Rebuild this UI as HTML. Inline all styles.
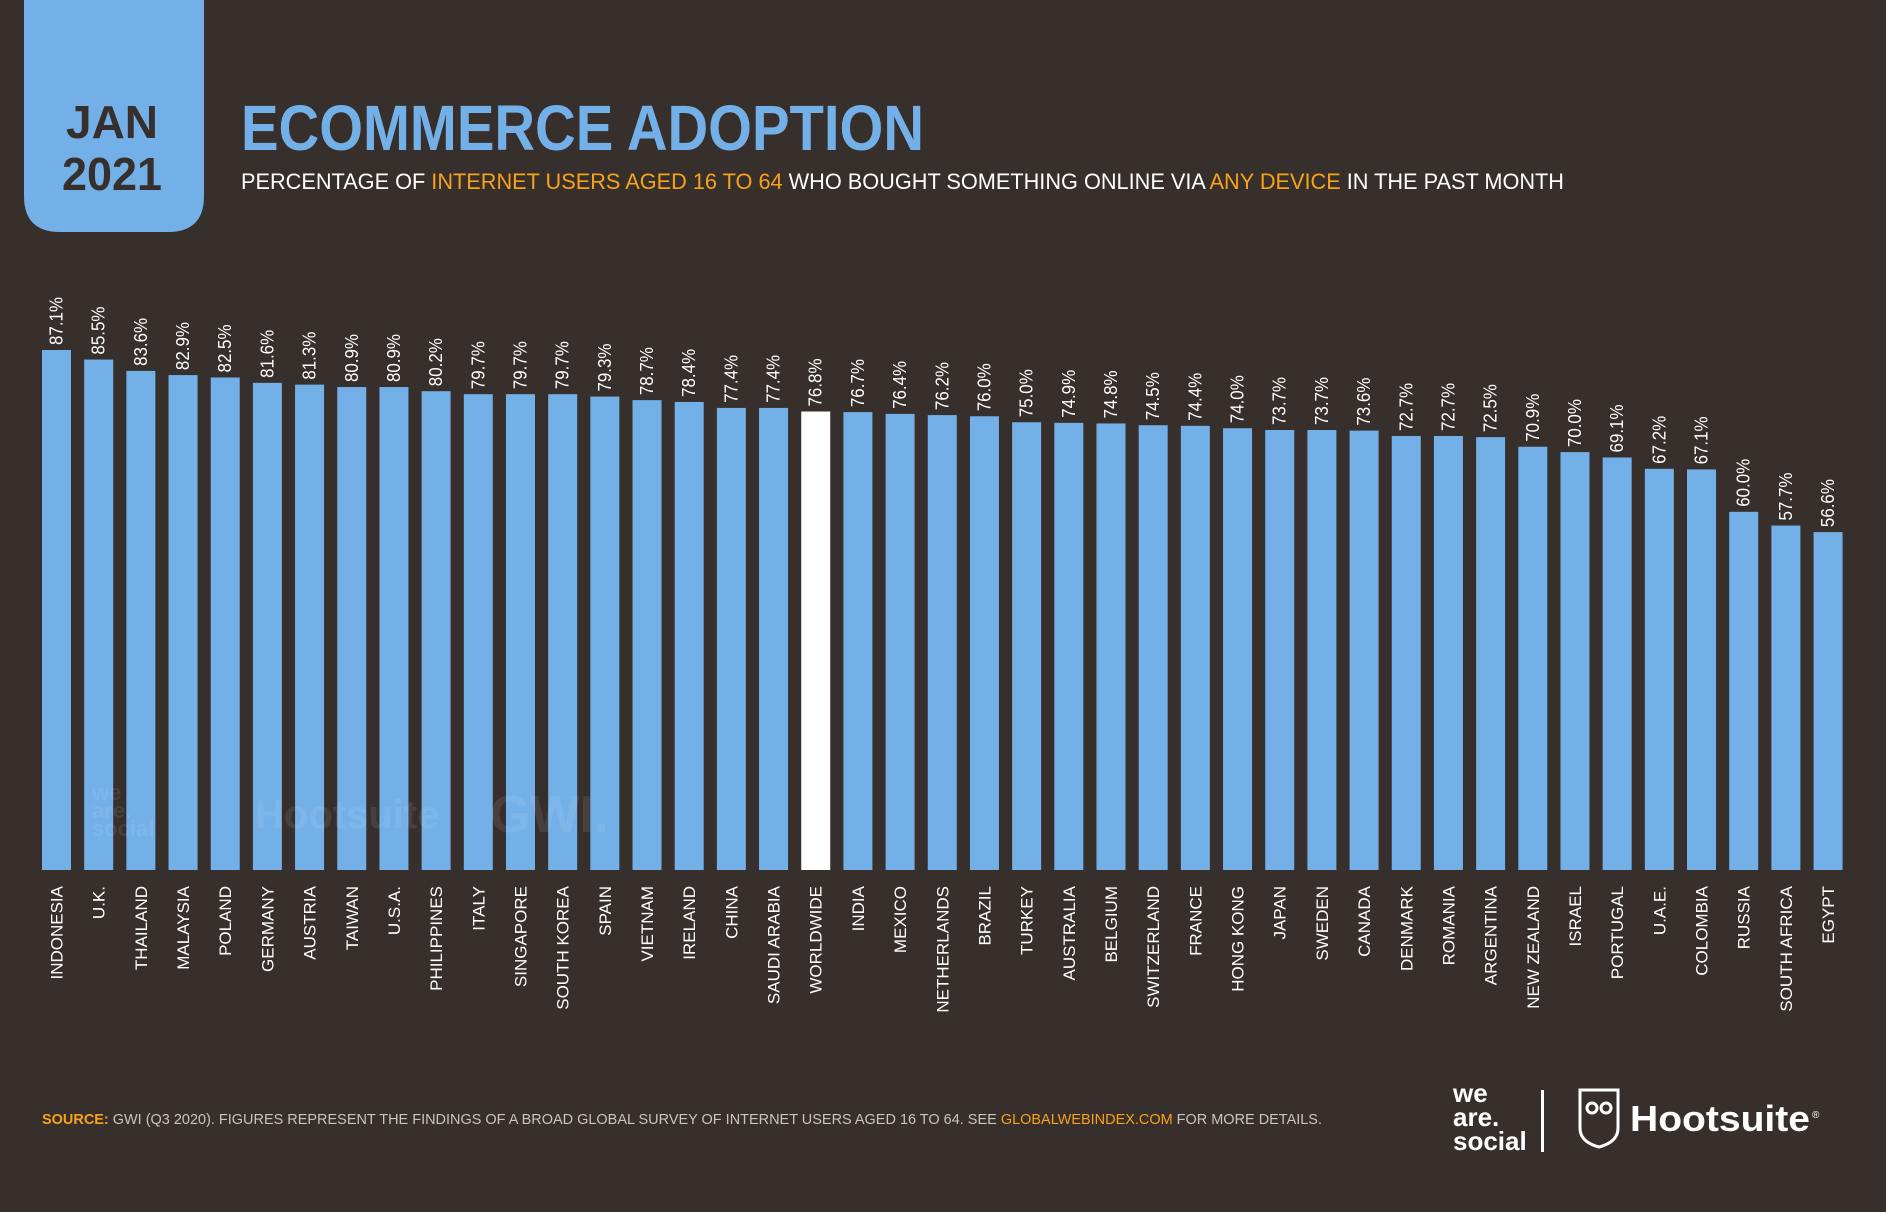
<!DOCTYPE html>
<html><head><meta charset="utf-8"><title>Ecommerce Adoption</title>
<style>
html,body{margin:0;padding:0;background:#372f2b;}
svg{display:block;}
text{font-family:"Liberation Sans",sans-serif;}
</style></head>
<body>
<svg id="chart" width="1886" height="1212" viewBox="0 0 1886 1212" xmlns="http://www.w3.org/2000/svg">
<rect x="0" y="0" width="1886" height="1212" fill="#372f2b"/>
<path d="M24 0 H204 V196 Q204 232 168 232 H60 Q24 232 24 196 Z" fill="#74b0e8"/>
<text x="112" y="138" text-anchor="middle" font-size="46" font-weight="bold" fill="#372f2b" textLength="92" lengthAdjust="spacingAndGlyphs">JAN</text>
<text x="112" y="190" text-anchor="middle" font-size="46" font-weight="bold" fill="#372f2b" textLength="100" lengthAdjust="spacingAndGlyphs">2021</text>
<text x="241" y="150" font-size="64" font-weight="bold" fill="#74b0e8" textLength="683" lengthAdjust="spacingAndGlyphs">ECOMMERCE ADOPTION</text>
<text x="241" y="189" font-size="22" fill="#ffffff" textLength="1323" lengthAdjust="spacingAndGlyphs">PERCENTAGE OF <tspan fill="#f7a21b">INTERNET USERS AGED 16 TO 64</tspan> WHO BOUGHT SOMETHING ONLINE VIA <tspan fill="#f7a21b">ANY DEVICE</tspan> IN THE PAST MONTH</text>
<g id="bars"></g>
<g opacity="0.08" font-weight="bold" fill="#ffffff">
<text x="92" y="800" font-size="22">we</text>
<text x="92" y="818" font-size="22">are.</text>
<text x="92" y="836" font-size="22">social</text>
<text x="255" y="828" font-size="40">Hootsuite</text>
<text x="490" y="832" font-size="52">GWI.</text>
</g>
<g id="values"></g>
<g id="cats"></g>
<text x="42" y="1124" font-size="15" fill="#c9c4c0" textLength="1280" lengthAdjust="spacingAndGlyphs"><tspan fill="#f7a21b" font-weight="bold">SOURCE:</tspan> GWI (Q3 2020). FIGURES REPRESENT THE FINDINGS OF A BROAD GLOBAL SURVEY OF INTERNET USERS AGED 16 TO 64. SEE <tspan fill="#f7a21b">GLOBALWEBINDEX.COM</tspan> FOR MORE DETAILS.</text>
<g fill="#ffffff" font-weight="bold">
<text x="1453" y="1102" font-size="26">we</text>
<text x="1453" y="1126" font-size="26">are.</text>
<text x="1453" y="1150" font-size="26">social</text>
<rect x="1541" y="1090" width="3" height="62" fill="#ffffff"/>
</g>
<g>
<path d="M1580 1090 H1618 V1128 Q1618 1142 1599 1147 Q1580 1142 1580 1128 Z" fill="none" stroke="#ffffff" stroke-width="3"/>
<circle cx="1592" cy="1108" r="5" fill="none" stroke="#ffffff" stroke-width="3"/>
<circle cx="1606" cy="1108" r="5" fill="none" stroke="#ffffff" stroke-width="3"/>
<text x="1630" y="1131" font-size="36" font-weight="bold" fill="#ffffff" textLength="180" lengthAdjust="spacingAndGlyphs">Hootsuite</text>
<text x="1812" y="1118" font-size="10" fill="#ffffff">®</text>
</g>
</svg>
<script>
const categories = ["INDONESIA","U.K.","THAILAND","MALAYSIA","POLAND","GERMANY","AUSTRIA","TAIWAN","U.S.A.","PHILIPPINES","ITALY","SINGAPORE","SOUTH KOREA","SPAIN","VIETNAM","IRELAND","CHINA","SAUDI ARABIA","WORLDWIDE","INDIA","MEXICO","NETHERLANDS","BRAZIL","TURKEY","AUSTRALIA","BELGIUM","SWITZERLAND","FRANCE","HONG KONG","JAPAN","SWEDEN","CANADA","DENMARK","ROMANIA","ARGENTINA","NEW ZEALAND","ISRAEL","PORTUGAL","U.A.E.","COLOMBIA","RUSSIA","SOUTH AFRICA","EGYPT"];
const values = [87.1,85.5,83.6,82.9,82.5,81.6,81.3,80.9,80.9,80.2,79.7,79.7,79.7,79.3,78.7,78.4,77.4,77.4,76.8,76.7,76.4,76.2,76.0,75.0,74.9,74.8,74.5,74.4,74.0,73.7,73.7,73.6,72.7,72.7,72.5,70.9,70.0,69.1,67.2,67.1,60.0,57.7,56.6];
const highlight = ["WORLDWIDE"];

const NS = "http://www.w3.org/2000/svg";
const baseY = 870, pxPer = 5.97, x0 = 42, pitch = 42.18, bw = 29;
function xScale(i){ return x0 + i * pitch; }
function yScale(v){ return baseY - v * pxPer; }
const gB = document.getElementById('bars'), gV = document.getElementById('values'), gC = document.getElementById('cats');
categories.forEach((c, i) => {
  const v = values[i];
  const x = xScale(i), y = yScale(v);
  const r = document.createElementNS(NS, 'rect');
  r.setAttribute('x', x); r.setAttribute('y', y);
  r.setAttribute('width', bw); r.setAttribute('height', baseY - y);
  r.setAttribute('fill', highlight.includes(c) ? '#ffffff' : '#74b0e8');
  
  
  gB.appendChild(r);
  const cx = x + bw / 2 + 6;
  const t = document.createElementNS(NS, 'text');
  t.setAttribute('transform', 'translate(' + cx + ',' + (y - 5) + ') rotate(-90)');
  t.setAttribute('font-size', '18');
  t.setAttribute('fill', '#ffffff');
  t.setAttribute('textLength', '48');
  t.setAttribute('lengthAdjust', 'spacingAndGlyphs');
  t.textContent = v.toFixed(1) + '%';
  
  
  gV.appendChild(t);
  const l = document.createElementNS(NS, 'text');
  l.setAttribute('transform', 'translate(' + (x + bw / 2 + 6) + ',886) rotate(-90)');
  l.setAttribute('text-anchor', 'end');
  l.setAttribute('font-size', '17');
  l.setAttribute('fill', '#ffffff');
  l.textContent = c;
  
  
  gC.appendChild(l);
});
</script>
</body></html>
